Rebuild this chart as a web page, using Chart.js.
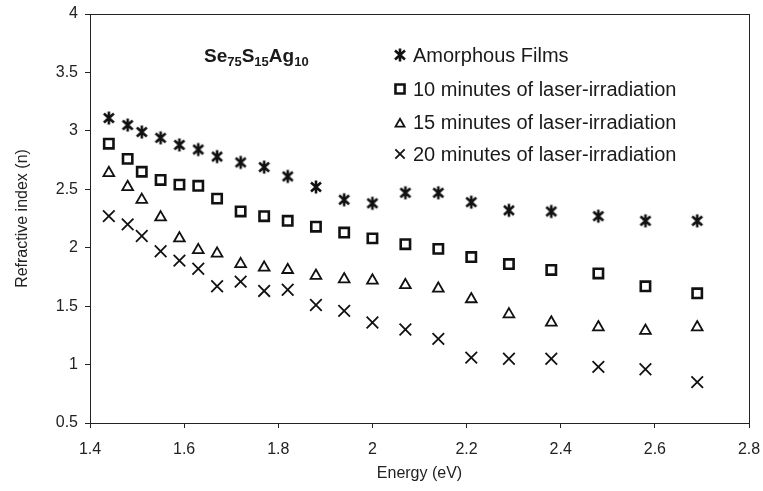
<!DOCTYPE html>
<html>
<head>
<meta charset="utf-8">
<script src="https://cdn.jsdelivr.net/npm/chart.js@4.4.1/dist/chart.umd.min.js"></script>
<style>
  html, body { margin: 0; padding: 0; background: #fff; }
  #wrap { width: 763px; height: 491px; }
</style>
</head>
<body>
<div id="wrap"><canvas id="refractiveChart"></canvas></div>
<script>
// Photon energy (eV), shared by all four series
const energy = [1.44, 1.48, 1.51, 1.55, 1.59, 1.63, 1.67, 1.72, 1.77, 1.82, 1.88,
                1.94, 2.00, 2.07, 2.14, 2.21, 2.29, 2.38, 2.48, 2.58, 2.69];

const amorphous = [3.11, 3.05, 2.99, 2.94, 2.88, 2.84, 2.78, 2.73, 2.69, 2.61, 2.52,
                   2.41, 2.38, 2.47, 2.47, 2.39, 2.32, 2.31, 2.27, 2.23, 2.23];
const irr10 = [2.89, 2.76, 2.65, 2.58, 2.54, 2.53, 2.42, 2.31, 2.27, 2.23, 2.18,
               2.13, 2.08, 2.03, 1.99, 1.92, 1.86, 1.81, 1.78, 1.67, 1.61];
const irr15 = [2.64, 2.52, 2.41, 2.26, 2.08, 1.98, 1.95, 1.86, 1.83, 1.81, 1.76,
               1.73, 1.72, 1.68, 1.65, 1.56, 1.43, 1.36, 1.32, 1.29, 1.32];
const irr20 = [2.27, 2.20, 2.10, 1.97, 1.89, 1.82, 1.67, 1.71, 1.63, 1.64, 1.51,
               1.46, 1.36, 1.30, 1.22, 1.06, 1.05, 1.05, 0.98, 0.96, 0.85];

const seriesLabels = ['Amorphous Films', '10 minutes of laser-irradiation',
                      '15 minutes of laser-irradiation', '20 minutes of laser-irradiation'];

const xTicks = [1.4, 1.6, 1.8, 2.0, 2.2, 2.4, 2.6, 2.8];
const yTicks = [0.5, 1, 1.5, 2, 2.5, 3, 3.5, 4];

const ink = '#111';
const fontFamily = "'Liberation Sans', Arial, sans-serif";

// six-armed asterisk marker (vertical bar + X), like the original plot
const makeAsterisk = () => {
    const c = document.createElement('canvas');
    c.width = 14;
    c.height = 16;
    const g = c.getContext('2d');
    g.strokeStyle = ink;
    g.lineWidth = 2.6;
    g.lineCap = 'butt';
    g.beginPath();
    g.moveTo(7, 1.5); g.lineTo(7, 14.5);
    g.moveTo(2, 3.5); g.lineTo(12, 12.5);
    g.moveTo(12, 3.5); g.lineTo(2, 12.5);
    g.stroke();
    return c;
};
const asterisk = makeAsterisk();

const toPoints = (ys) => energy.map((x, i) => ({ x, y: ys[i] }));

const markerStyles = [
    { pointStyle: asterisk, pointRadius: 7, pointBorderWidth: 0 },
    { pointStyle: 'rect', pointRadius: 6.6, pointBorderWidth: 2.6 },
    { pointStyle: 'triangle', pointRadius: 6.2, pointBorderWidth: 1.8 },
    { pointStyle: 'crossRot', pointRadius: 8.2, pointBorderWidth: 1.8 }
];
const seriesValues = [amorphous, irr10, irr15, irr20];

const datasets = seriesValues.map((vals, i) => ({
    label: seriesLabels[i],
    data: toPoints(vals),
    showLine: false,
    borderColor: ink,
    backgroundColor: 'rgba(255,255,255,0)',
    pointBorderColor: ink,
    pointBackgroundColor: 'rgba(255,255,255,0)',
    pointStyle: markerStyles[i].pointStyle,
    pointRadius: markerStyles[i].pointRadius,
    pointBorderWidth: markerStyles[i].pointBorderWidth,
    pointHoverRadius: markerStyles[i].pointRadius
}));

// box around the plot, in-plot legend and the composition label
const annotations = {
    id: 'annotations',
    afterDraw(chart) {
        const { ctx, chartArea } = chart;
        ctx.save();
        ctx.strokeStyle = '#222';
        ctx.lineWidth = 1;
        ctx.strokeRect(chartArea.left + 0.5, chartArea.top + 0.5,
                       chartArea.right - chartArea.left, chartArea.bottom - chartArea.top);

        // legend
        const legendX = 400;
        const rowY = [55, 89, 122, 154];
        const legendRadius = [7, 6.4, 5.2, 6.6];
        ctx.font = '20px ' + fontFamily;
        ctx.textBaseline = 'middle';
        ctx.textAlign = 'left';
        chart.data.datasets.forEach((ds, i) => {
            const y = rowY[i];
            ctx.strokeStyle = ink;
            ctx.fillStyle = 'rgba(255,255,255,0)';
            ctx.lineWidth = ds.pointBorderWidth || 1;
            Chart.helpers.drawPoint(ctx, {
                pointStyle: ds.pointStyle,
                radius: legendRadius[i],
                borderWidth: ds.pointBorderWidth,
                rotation: 0
            }, legendX, i === 2 ? y + 2 : y);
            ctx.fillStyle = '#1a1a1a';
            ctx.fillText(ds.label, legendX + 13, y + 1);
        });

        // Se75S15Ag10 with subscripts
        const parts = [['Se', false], ['75', true], ['S', false], ['15', true], ['Ag', false], ['10', true]];
        let x = 204;
        ctx.textBaseline = 'alphabetic';
        ctx.fillStyle = '#1a1a1a';
        parts.forEach(([t, sub]) => {
            ctx.font = (sub ? 'bold 13px ' : 'bold 19px ') + fontFamily;
            ctx.fillText(t, x, sub ? 66 : 62);
            x += ctx.measureText(t).width;
        });
        ctx.restore();
    }
};

new Chart(document.getElementById('refractiveChart'), {
    type: 'scatter',
    data: { datasets },
    options: {
        responsive: true,
        maintainAspectRatio: false,
        animation: false,
        layout: { padding: { top: 14, right: 14, left: 0, bottom: 0 } },
        plugins: {
            legend: { display: false },
            tooltip: { enabled: false }
        },
        scales: {
            x: {
                type: 'linear',
                min: 1.4,
                max: 2.8,
                afterBuildTicks: (scale) => { scale.ticks = xTicks.map((v) => ({ value: v })); },
                afterFit: (scale) => {
                    scale.height = 68;
                    scale.paddingLeft = 0;
                    scale.paddingRight = 0;
                },
                ticks: {
                    color: '#222',
                    padding: 12,
                    maxRotation: 0,
                    font: { family: fontFamily, size: 16 },
                    callback: (v) => String(Math.round(v * 10) / 10)
                },
                grid: { drawOnChartArea: false, tickLength: 5, color: '#222' },
                border: { color: '#222', width: 1 },
                title: {
                    display: true,
                    text: 'Energy (eV)',
                    color: '#222',
                    font: { family: fontFamily, size: 16 },
                    padding: { top: 0, bottom: 8 }
                }
            },
            y: {
                type: 'linear',
                min: 0.5,
                max: 4,
                afterBuildTicks: (scale) => { scale.ticks = yTicks.map((v) => ({ value: v })); },
                afterFit: (scale) => {
                    scale.width = 90;
                    scale.paddingTop = 0;
                    scale.paddingBottom = 0;
                },
                ticks: {
                    color: '#222',
                    padding: 7,
                    font: { family: fontFamily, size: 16 },
                    callback: (v) => String(v)
                },
                grid: { drawOnChartArea: false, tickLength: 5, color: '#222' },
                border: { color: '#222', width: 1 },
                title: {
                    display: true,
                    text: 'Refractive index (n)',
                    color: '#222',
                    font: { family: fontFamily, size: 16 },
                    padding: { top: 13, bottom: 0 }
                }
            }
        }
    },
    plugins: [annotations]
});
</script>
</body>
</html>
